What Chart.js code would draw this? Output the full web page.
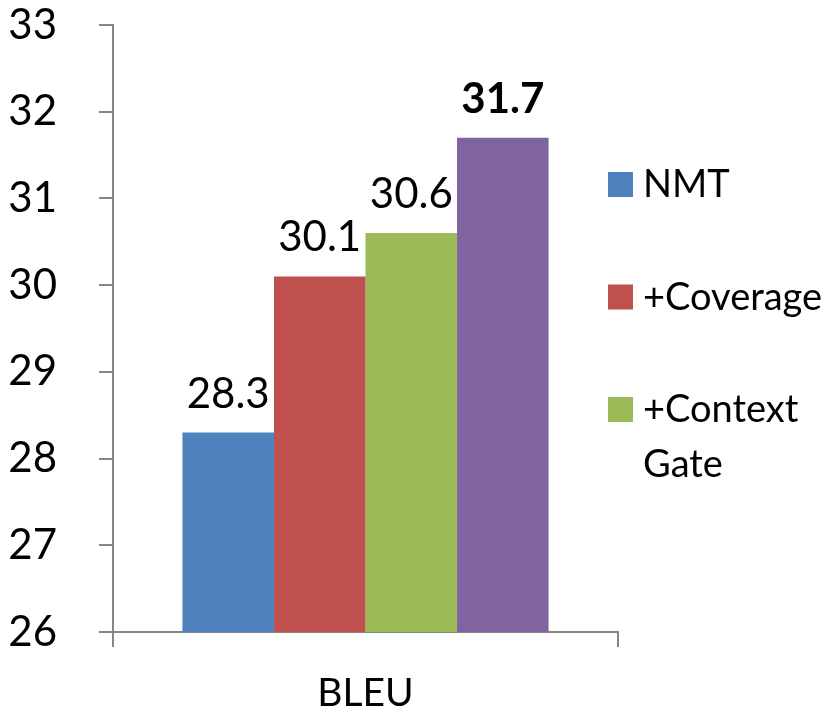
<!DOCTYPE html>
<html>
<head>
<meta charset="utf-8">
<script src="https://cdn.jsdelivr.net/npm/chart.js@4"></script>
<style>
  body { margin: 0; background: #fff; }
  #wrap { width: 829px; height: 712px; }
</style>
</head>
<body>
<div id="wrap"><canvas id="bleuChart"></canvas></div>
<script>
const categories = ['BLEU'];
const seriesNames = ['NMT', '+Coverage', '+Context Gate', '+Coverage +Context Gate'];
const legendLines = [['NMT'], ['+Coverage'], ['+Context', 'Gate']]; // legend in the picture shows only 3
const bleuValues = [28.3, 30.1, 30.6, 31.7];
const valueLabels = ['28.3', '30.1', '30.6', '31.7'];
const yTicks = [26, 27, 28, 29, 30, 31, 32, 33];
const colors = ['#4F81BD', '#C0504D', '#9BBB59', '#8064A2'];

const axisGray = '#868686';
const font = 'Lato';

// numbers over the bars, last one bold
const barLabels = {
    id: 'barLabels',
    afterDatasetsDraw(chart) {
        const ctx = chart.ctx;
        ctx.save();
        ctx.fillStyle = '#000';
        ctx.textAlign = 'center';
        ctx.textBaseline = 'alphabetic';
        chart.data.datasets.forEach((ds, i) => {
            const bar = chart.getDatasetMeta(i).data[0];
            const bold = i === chart.data.datasets.length - 1;
            ctx.font = (bold ? 'bold ' : '') + '42px ' + font;
            ctx.fillText(valueLabels[i], bar.x, bar.y - 25);
        });
        ctx.restore();
    }
};

// legend drawn by hand so "+Context Gate" can wrap
const sideLegend = {
    id: 'sideLegend',
    afterDraw(chart) {
        const ctx = chart.ctx;
        ctx.save();
        ctx.font = '38px ' + font;
        ctx.textAlign = 'left';
        ctx.textBaseline = 'alphabetic';
        legendLines.forEach((lines, i) => {
            const base = 197 + i * 112.5;
            ctx.fillStyle = colors[i];
            ctx.fillRect(608, base - 25, 25, 25);
            ctx.fillStyle = '#000';
            lines.forEach((t, j) => ctx.fillText(t, 643, base + j * 55));
        });
        ctx.restore();
    }
};

const ctx = document.getElementById('bleuChart').getContext('2d');
const bleuChart = new Chart(ctx, {
    type: 'bar',
    data: {
        labels: categories,
        datasets: seriesNames.map((name, i) => ({
            label: name,
            data: [bleuValues[i]],
            backgroundColor: colors[i],
            borderWidth: 0,
            categoryPercentage: 0.725,
            barPercentage: 1
        }))
    },
    options: {
        responsive: true,
        maintainAspectRatio: false,
        animation: false,
        layout: { padding: { top: 0, right: 211, bottom: 0, left: 0 } },
        plugins: {
            legend: { display: false },
            tooltip: { enabled: false }
        },
        scales: {
            x: {
                grid: { drawOnChartArea: false, tickLength: 15, color: axisGray, lineWidth: 2 },
                border: { color: axisGray, width: 2 },
                ticks: { color: '#000', font: { family: font, size: 39 }, padding: 23 },
                afterFit(scale) { scale.height = 80; }
            },
            y: {
                min: 26,
                max: 33,
                afterBuildTicks(scale) { scale.ticks = yTicks.map(v => ({ value: v })); },
                grid: { drawOnChartArea: false, tickLength: 14, color: axisGray, lineWidth: 2 },
                border: { color: axisGray, width: 2 },
                ticks: { color: '#000', font: { family: font, size: 42 }, padding: 42 },
                afterFit(scale) {
                    scale.width = 113;
                    scale.paddingTop = 25;
                    scale.paddingBottom = 0;
                }
            }
        }
    },
    plugins: [barLabels, sideLegend]
});
</script>
</body>
</html>
